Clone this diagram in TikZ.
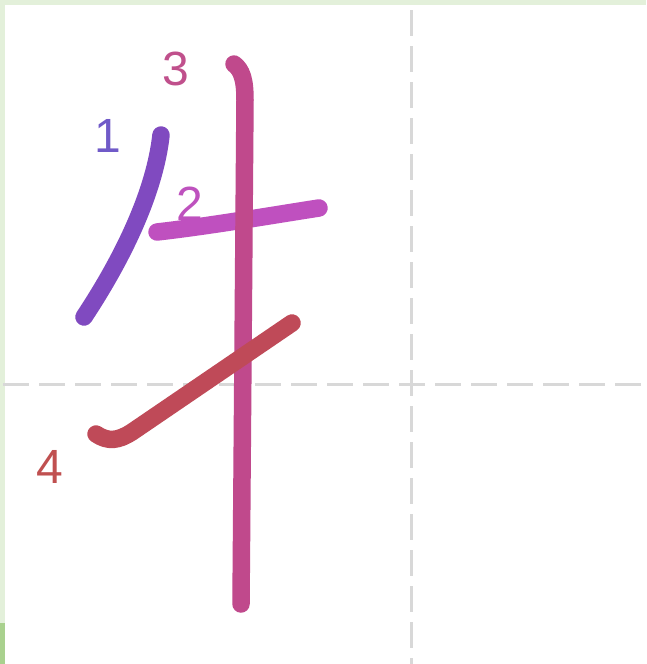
\documentclass[tikz,border=0pt]{standalone}
\usepackage{fontspec}
\setmainfont{Liberation Sans}
\usepackage{xcolor}
\definecolor{strokeone}{RGB}{128, 74, 192}
\definecolor{stroketwo}{RGB}{191, 80, 191}
\definecolor{strokethree}{RGB}{192, 73, 140}
\definecolor{strokefour}{RGB}{191, 74, 88}
\definecolor{labelone}{RGB}{112, 90, 200}
\definecolor{labeltwo}{RGB}{190, 82, 190}
\definecolor{labelthree}{RGB}{192, 80, 140}
\definecolor{labelfour}{RGB}{192, 80, 80}
\definecolor{framegreen}{RGB}{227, 240, 218}
\definecolor{darkgreen}{RGB}{169, 209, 142}
\definecolor{guidegray}{RGB}{216, 216, 216}
\usepackage{tikz}

\begin{document}
\begin{tikzpicture}[x=1pt, y=-1pt,
    guide/.style={guidegray, line width=3pt, dash pattern=on 26pt off 10pt},
    brush/.style={line width=17.5pt, line cap=round, line join=round},
    num/.style={font=\fontsize{48}{56}\selectfont, inner sep=0pt}]
    \useasboundingbox (0,0) rectangle (646,664);
    \fill[white] (0,0) rectangle (646,664);
    % frame
    \fill[framegreen] (0,0) rectangle (646,4.5);
    \fill[framegreen] (0,0) rectangle (4.5,623);
    \fill[darkgreen] (0,623) rectangle (4.5,664);
    % guides
    \draw[guide] (411,10) -- (411,664);
    \draw[guide] (3,384.5) -- (646,384.5);
    % stroke numbers
    \node[num, labelone] (label1) at (108,136) {1};
    \node[num, labeltwo] (label2) at (190,204) {2};
    \node[num, labelthree] (label3) at (176,69) {3};
    \node[num, labelfour] (label4) at (50,467) {4};
    % strokes
    \draw[brush, strokeone] (161,135) .. controls (155,190) and (125,255) .. (84,317);
    \draw[brush, stroketwo] (157,232) .. controls (210,226) and (280,214) .. (319,208);
    \draw[brush, strokethree] (234,64) .. controls (242,70) and (245,80) .. (245,100) -- (241,604);
    \draw[brush, strokefour] (96,434) .. controls (108,442) and (118,441) .. (132,432) -- (292,323);
\end{tikzpicture}
\end{document}
